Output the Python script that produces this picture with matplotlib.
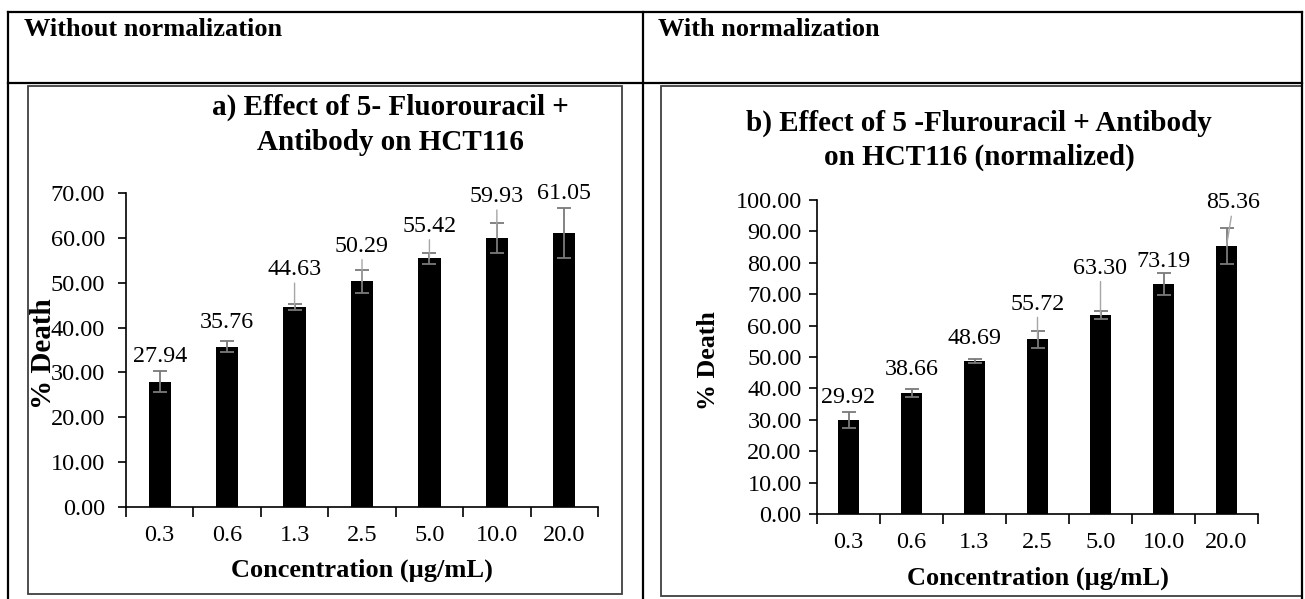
import numpy as np
import matplotlib
matplotlib.use("Agg")
import matplotlib.pyplot as plt
from matplotlib.patches import Rectangle

plt.rcParams['font.family'] = ['Liberation Serif', 'DejaVu Sans']

# data
conc = ["0.3", "0.6", "1.3", "2.5", "5.0", "10.0", "20.0"]
death_raw = [27.94, 35.76, 44.63, 50.29, 55.42, 59.93, 61.05]
err_raw = [2.4, 1.3, 0.7, 2.5, 1.2, 3.4, 5.5]
death_norm = [29.92, 38.66, 48.69, 55.72, 63.30, 73.19, 85.36]
err_norm = [2.6, 1.3, 0.6, 2.7, 1.2, 3.6, 5.7]

head_left = "Without normalization"
head_right = "With normalization"
title_a = ["a) Effect of 5- Fluorouracil +", "Antibody on HCT116"]
title_b = ["b) Effect of 5 -Flurouracil + Antibody", "on HCT116 (normalized)"]
xlab = "Concentration (µg/mL)"
ylab = "% Death"

W, H = 1305, 599
fig = plt.figure(figsize=(W / 100, H / 100), dpi=100)

# overlay in pixel coords for the table frame
ov = fig.add_axes([0, 0, 1, 1], zorder=-1)
ov.set_xlim(0, W)
ov.set_ylim(H, 0)
ov.axis('off')

lw_tab = 1.6
ov.plot([8, 1302], [12, 12], color='black', lw=lw_tab)
ov.plot([8, 1302], [83, 83], color='black', lw=lw_tab)
ov.plot([8, 8], [12, H], color='black', lw=lw_tab)
ov.plot([643, 643], [12, H], color='black', lw=lw_tab)
ov.plot([1302, 1302], [12, H], color='black', lw=lw_tab)
ov.add_patch(Rectangle((28, 86), 594, 508, fill=False, ec='#404040', lw=1.3))
ov.add_patch(Rectangle((661, 86), 641, 510, fill=False, ec='#404040', lw=1.3))

ov.text(24, 30, head_left, ha='left', va='center', fontsize=19, fontweight='bold')
ov.text(658, 30, head_right, ha='left', va='center', fontsize=19, fontweight='bold')

ov.text(390, 107, title_a[0], ha='center', va='center', fontsize=21, fontweight='bold')
ov.text(390, 142, title_a[1], ha='center', va='center', fontsize=21, fontweight='bold')
ov.text(979, 123, title_b[0], ha='center', va='center', fontsize=21, fontweight='bold')
ov.text(979, 157, title_b[1], ha='center', va='center', fontsize=21, fontweight='bold')


def draw(ax, vals, errs, ymax, offs, leaders, dxs, ylab_x, ylab_fs, ypad, xlpad):
    x = np.arange(len(conc))
    ax.set_facecolor('none')
    ax.bar(x, vals, width=0.33, color='black', zorder=2)
    ax.errorbar(x, vals, yerr=errs, fmt='none', ecolor='#7a7a7a', elinewidth=1.3,
                capsize=5, capthick=1.3, zorder=3)
    for i, v in enumerate(vals):
        ap = None
        if leaders[i]:
            ap = dict(arrowstyle='-', color='#a6a6a6', lw=1.0, shrinkA=0, shrinkB=0)
        ax.annotate(f"{v:.2f}", xy=(i, v), xytext=(dxs[i] * 0.72, offs[i] * 0.72),
                    textcoords='offset points', ha='center', va='center',
                    fontsize=17.3, arrowprops=ap, zorder=4)
    ax.set_xlim(-0.5, len(conc) - 0.5)
    ax.set_ylim(0, ymax)
    ax.set_yticks(np.arange(0, ymax + 1, 10))
    ax.set_yticklabels([f"{t:.2f}" for t in np.arange(0, ymax + 1, 10)], fontsize=17.5)
    ax.set_xticks(np.arange(-0.5, len(conc)), minor=False)
    ax.set_xticklabels([])
    ax.set_xticks(x, minor=True)
    ax.set_xticklabels(conc, minor=True, fontsize=17.5)
    ax.tick_params(axis='x', which='major', length=7, width=1.2, direction='out')
    ax.tick_params(axis='x', which='minor', length=0, pad=13)
    ax.tick_params(axis='y', length=6, width=1.2, pad=ypad)
    for s in ['top', 'right']:
        ax.spines[s].set_visible(False)
    for s in ['left', 'bottom']:
        ax.spines[s].set_linewidth(1.2)
    ax.set_xlabel(xlab, fontsize=19, fontweight='bold', labelpad=xlpad)
    ax.set_ylabel(ylab, fontsize=ylab_fs, fontweight='bold')
    ax.yaxis.set_label_coords(ylab_x, 0.49)


ax1 = fig.add_axes([126 / W, 1 - 507 / H, 472 / W, 314 / H])
draw(ax1, death_raw, err_raw, 70,
     [25, 24, 37, 35, 32, 41.5, 40],
     [False, False, True, True, True, True, False],
     [0, 0, 0, 0, 0, 0, 0], -0.146, 21, 9, 9)

ax2 = fig.add_axes([817 / W, 1 - 514 / H, 441 / W, 314 / H])
draw(ax2, death_norm, err_norm, 100,
     [23, 23.6, 22.6, 35, 47, 22.5, 43],
     [False, False, False, True, True, False, True],
     [0, 0, 0, 0, 0, 0, 7], -0.22, 18.7, 5, 10)

fig.savefig("out.png", dpi=100)
